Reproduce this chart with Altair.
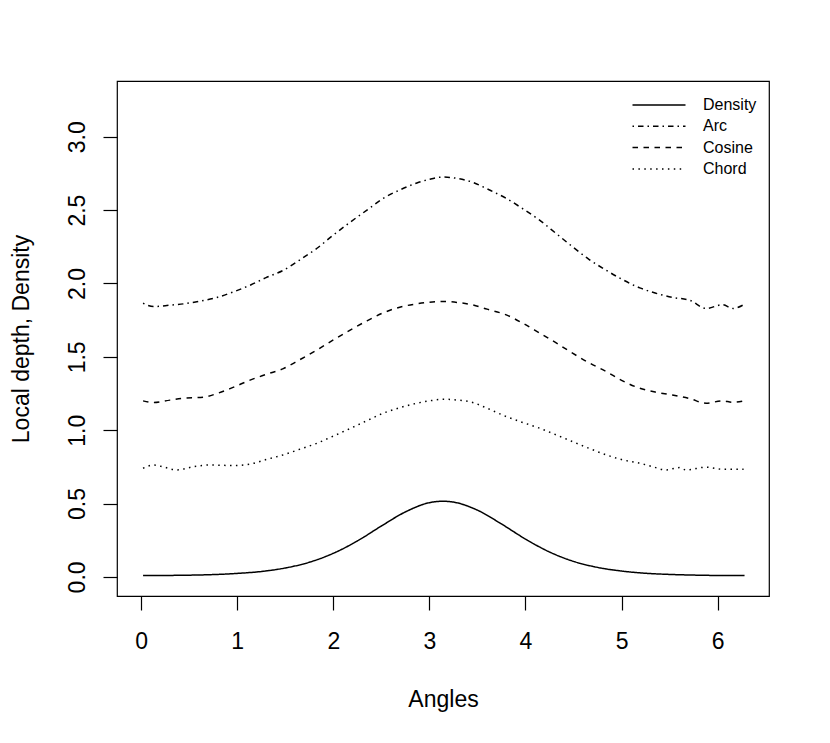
import altair as alt
import pandas as pd

# ---- data ----
density_x = [0.02, 0.25, 0.5, 0.75, 1.0, 1.25, 1.5, 1.75, 2.0, 2.25, 2.5, 2.75, 3.0, 3.1416,
             3.25, 3.5, 3.75, 4.0, 4.25, 4.5, 4.75, 5.0, 5.25, 5.5, 5.75, 6.0, 6.25, 6.28]
density_y = [0.009, 0.010, 0.012, 0.016, 0.024, 0.037, 0.061, 0.100, 0.161, 0.245, 0.347, 0.443,
             0.506, 0.516, 0.510, 0.455, 0.361, 0.258, 0.170, 0.106, 0.065, 0.040, 0.025, 0.017,
             0.0125, 0.010, 0.0095, 0.009]

arc_x = [0.02, 0.13, 0.3, 0.44, 0.6, 0.79, 0.95, 1.14, 1.3, 1.48, 1.65, 1.83, 2.0, 2.18, 2.35,
         2.52, 2.7, 2.87, 3.0, 3.14, 3.3, 3.45, 3.6, 3.80, 3.97, 4.15, 4.32, 4.49, 4.66, 4.84,
         5.0, 5.19, 5.35, 5.53, 5.71, 5.88, 6.05, 6.16, 6.27]
arc_y = [1.865, 1.843, 1.852, 1.861, 1.878, 1.905, 1.94, 1.99, 2.04, 2.09, 2.16, 2.24, 2.33,
         2.42, 2.50, 2.58, 2.64, 2.685, 2.71, 2.725, 2.715, 2.69, 2.645, 2.58, 2.51, 2.43, 2.34,
         2.25, 2.165, 2.09, 2.03, 1.97, 1.935, 1.905, 1.885, 1.83, 1.855, 1.83, 1.855]

cos_x = [0.02, 0.13, 0.3, 0.44, 0.65, 0.79, 0.95, 1.14, 1.3, 1.48, 1.65, 1.83, 2.0, 2.18, 2.35,
         2.52, 2.7, 2.87, 3.0, 3.15, 3.3, 3.45, 3.6, 3.80, 3.97, 4.15, 4.32, 4.49, 4.66, 4.84,
         5.0, 5.19, 5.35, 5.53, 5.71, 5.88, 6.05, 6.16, 6.27]
cos_y = [1.20, 1.188, 1.205, 1.218, 1.225, 1.25, 1.29, 1.343, 1.38, 1.42, 1.48, 1.547, 1.615,
         1.684, 1.745, 1.80, 1.84, 1.861, 1.872, 1.877, 1.87, 1.854, 1.825, 1.786, 1.73, 1.661,
         1.595, 1.525, 1.46, 1.40, 1.34, 1.286, 1.26, 1.24, 1.215, 1.184, 1.20, 1.19, 1.20]

chord_x = [0.02, 0.13, 0.24, 0.37, 0.55, 0.72, 0.96, 1.14, 1.3, 1.48, 1.65, 1.83, 2.0, 2.18,
           2.35, 2.52, 2.7, 2.87, 3.0, 3.15, 3.3, 3.45, 3.6, 3.80, 3.97, 4.15, 4.32, 4.49, 4.66,
           4.84, 5.0, 5.19, 5.33, 5.46, 5.60, 5.67, 5.88, 6.05, 6.27]
chord_y = [0.741, 0.763, 0.748, 0.729, 0.752, 0.763, 0.759, 0.77, 0.80, 0.832, 0.87, 0.911, 0.96,
           1.013, 1.065, 1.116, 1.155, 1.184, 1.20, 1.211, 1.205, 1.189, 1.15, 1.093, 1.053,
           1.013, 0.968, 0.922, 0.877, 0.832, 0.80, 0.775, 0.75, 0.729, 0.745, 0.729, 0.748,
           0.734, 0.734]

series_names = ["Density", "Arc", "Cosine", "Chord"]
x_ticks = [0, 1, 2, 3, 4, 5, 6]
y_ticks = [0.0, 0.5, 1.0, 1.5, 2.0, 2.5, 3.0]

frames = []
for name, xs, ys in [("Density", density_x, density_y), ("Arc", arc_x, arc_y),
                     ("Cosine", cos_x, cos_y), ("Chord", chord_x, chord_y)]:
    frames.append(pd.DataFrame({"x": xs, "y": ys, "series": name}))
df = pd.concat(frames, ignore_index=True)

FONT = "Liberation Sans"
dashes = [[1, 0], [1.5, 4, 5.5, 4], [5.5, 5.5], [1.5, 4.4]]

chart = alt.Chart(df).mark_line(
    color="black", strokeWidth=1.5, strokeCap="butt", interpolate="monotone"
).encode(
    x=alt.X("x:Q", scale=alt.Scale(domain=[-0.2513, 6.5345], nice=False, zero=False),
            axis=alt.Axis(values=x_ticks, format="d", title="Angles", grid=False, domain=False,
                          tickSize=14, tickColor="black", tickWidth=1.2,
                          labelFontSize=23, labelFont=FONT, labelColor="black", labelPadding=20,
                          labelFlush=False, labelOverlap=False,
                          titleFontSize=23, titleFont=FONT, titleFontWeight="normal",
                          titleColor="black", titleX=326, titleY=110,
                          titleBaseline="alphabetic", titleAlign="center")),
    y=alt.Y("y:Q", scale=alt.Scale(domain=[-0.13, 3.38], nice=False, zero=False),
            axis=alt.Axis(values=y_ticks, format=".1f", title="Local depth, Density",
                          grid=False, domain=False,
                          tickSize=14, tickColor="black", tickWidth=1.2,
                          labelFontSize=23, labelFont=FONT, labelColor="black",
                          labelAngle=270, labelAlign="center", labelBaseline="alphabetic",
                          labelPadding=19, labelFlush=False, labelOverlap=False,
                          titleFontSize=23, titleFont=FONT, titleFontWeight="normal",
                          titleColor="black", titleAngle=270, titleX=-89, titleY=257.5,
                          titleBaseline="alphabetic", titleAlign="center")),
    strokeDash=alt.StrokeDash(
        "series:N",
        scale=alt.Scale(domain=series_names, range=dashes),
        sort=series_names,
        legend=alt.Legend(title=None, orient="none", legendX=533, legendY=15,
                          symbolType="M-3.3125,0H3.3125", symbolSize=256,
                          symbolStrokeColor="black", symbolStrokeWidth=1.5,
                          labelFont=FONT, labelFontSize=16, labelColor="black",
                          labelOffset=35, rowPadding=4.3, padding=0),
    ),
    detail="series:N",
).properties(
    width=652, height=515,
    padding={"left": 109, "top": 73, "right": 53, "bottom": 139},
    autosize=alt.AutoSizeParams(type="none"),
).configure(
    background="white"
).configure_view(
    stroke="black", strokeWidth=1.2
)

chart.save("out.html", embed_options={"renderer": "svg", "actions": False})
